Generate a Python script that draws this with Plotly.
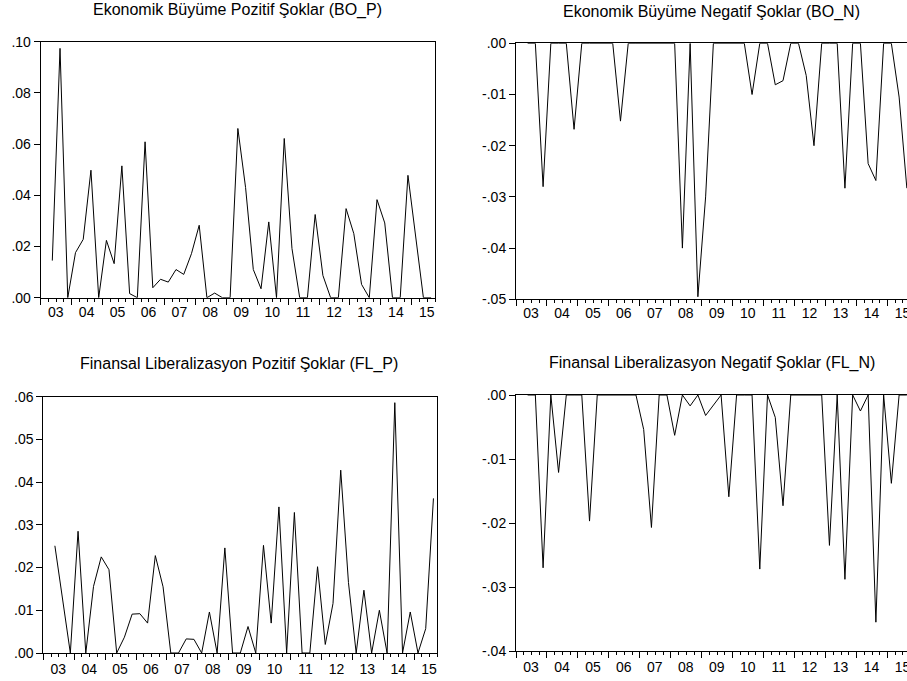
import plotly.graph_objects as go

# ---- data -------------------------------------------------------------
quarters = [f"{y}Q{q}" for y in range(2003, 2016) for q in range(1, 5)][:51]
x_idx = list(range(len(quarters)))
year_labels = [f"{y % 100:02d}" for y in range(2003, 2016)]

bo_p = [None, 0.0145, 0.0974, 0.0, 0.0176, 0.0228, 0.0498, 0.0, 0.0224, 0.0133,
        0.0515, 0.0016, 0.0, 0.0609, 0.0039, 0.0072, 0.0061, 0.0110, 0.0091, 0.0172,
        0.0283, 0.0, 0.0018, 0.0, 0.0, 0.0661, 0.0430, 0.0110, 0.0035, 0.0296,
        0.0, 0.0622, 0.0192, 0.0, 0.0, 0.0325, 0.0087, 0.0, 0.0, 0.0348,
        0.0250, 0.0052, 0.0, 0.0383, 0.0292, 0.0, 0.0, 0.0478, 0.0250, 0.0, 0.0]

bo_n = [None, 0.0, 0.0, -0.0280, 0.0, 0.0, 0.0, -0.0168, 0.0, 0.0,
        0.0, 0.0, 0.0, -0.0152, 0.0, 0.0, 0.0, 0.0, 0.0, 0.0,
        0.0, -0.0400, 0.0, -0.0495, -0.0300, 0.0, 0.0, 0.0, 0.0, 0.0,
        -0.0100, 0.0, 0.0, -0.0081, -0.0073, 0.0, 0.0, -0.0063, -0.0200, 0.0,
        0.0, 0.0, -0.0283, 0.0, 0.0, -0.0235, -0.0268, 0.0, 0.0, -0.0105, -0.0283]

fl_p = [None, 0.0251, 0.0130, 0.0, 0.0285, 0.0, 0.0156, 0.0225, 0.0195, 0.0,
        0.0037, 0.0091, 0.0092, 0.0070, 0.0228, 0.0155, 0.0, 0.0, 0.0033, 0.0032,
        0.0, 0.0096, 0.0, 0.0246, 0.0, 0.0, 0.0062, 0.0, 0.0252, 0.0070,
        0.0342, 0.0, 0.0329, 0.0, 0.0, 0.0202, 0.0020, 0.0116, 0.0428, 0.0165,
        0.0, 0.0147, 0.0, 0.0100, 0.0, 0.0586, 0.0, 0.0096, 0.0, 0.0057, 0.0362]

fl_n = [None, 0.0, 0.0, -0.0270, 0.0, -0.0121, 0.0, 0.0, 0.0, -0.0197,
        0.0, 0.0, 0.0, 0.0, 0.0, 0.0, -0.0054, -0.0207, 0.0, 0.0,
        -0.0063, 0.0, -0.0017, 0.0, -0.0032, -0.0016, 0.0, -0.0159, 0.0, 0.0,
        0.0, -0.0272, 0.0, -0.0035, -0.0173, 0.0, 0.0, 0.0, 0.0, 0.0,
        -0.0235, 0.0, -0.0288, 0.0, -0.0025, 0.0, -0.0355, 0.0, -0.0138, 0.0, 0.0]

titles = ["Ekonomik Büyüme Pozitif Şoklar (BO_P)",
          "Ekonomik Büyüme Negatif Şoklar (BO_N)",
          "Finansal Liberalizasyon Pozitif Şoklar (FL_P)",
          "Finansal Liberalizasyon Negatif Şoklar (FL_N)"]

y_ticks_bo_p = [0.00, 0.02, 0.04, 0.06, 0.08, 0.10]
y_ticks_bo_n = [0.00, -0.01, -0.02, -0.03, -0.04, -0.05]
y_ticks_fl_p = [0.00, 0.01, 0.02, 0.03, 0.04, 0.05, 0.06]
y_ticks_fl_n = [0.00, -0.01, -0.02, -0.03, -0.04]

# ---- layout helpers --------------------------------------------------------
W, H = 907, 681
FONT = "Arial, Liberation Sans, sans-serif"


def fx(px):
    return px / W


def fy(py):
    return 1 - py / H


def fmt(v):
    return f"{v:.2f}".replace("0.", ".")


year_bounds = [-0.5 + 4 * k for k in range(len(year_labels))]

panels = [
    # series, yticks, yrange, x-left px, x-right px, y-top px, y-bottom px,
    # x-range end, boxed, title pos, label standoff
    (bo_p, y_ticks_bo_p, [0, 0.10], 40.7, 435.0, 41.7, 297.7, 50.5, True, (237.0, 10.0), -5),
    (bo_n, y_ticks_bo_n, [-0.05, 0], 516.0, 907.0, 43.3, 299.3, 50.02, False, (711.7, 11.5), -5),
    (fl_p, y_ticks_fl_p, [0, 0.06], 43.3, 437.3, 396.7, 653.0, 50.5, True, (239.0, 364.0), -3),
    (fl_n, y_ticks_fl_n, [-0.04, 0], 516.0, 907.0, 395.0, 651.0, 50.02, False, (711.7, 362.5), -3),
]

fig = go.Figure()
layout = dict(
    template="none",
    width=W, height=H,
    margin=dict(l=0, r=0, t=0, b=0, pad=0, autoexpand=False),
    paper_bgcolor="white", plot_bgcolor="white",
    showlegend=False,
    font=dict(family=FONT, size=14, color="black"),
    annotations=[],
)

for i, (series, yt, yr, xl, xr, yt_px, yb_px, xend, boxed, tpos, stand) in enumerate(panels):
    n = "" if i == 0 else str(i + 1)
    fig.add_trace(go.Scatter(
        x=x_idx, y=series, mode="lines",
        line=dict(color="black", width=1),
        connectgaps=False, hoverinfo="skip",
        xaxis="x" + n, yaxis="y" + n,
    ))
    layout["xaxis" + n] = dict(
        domain=[fx(xl), fx(xr)], anchor="y" + n,
        range=[-0.5, xend], automargin=False,
        showgrid=False, zeroline=False,
        showline=True, linecolor="black", linewidth=1, mirror=True,
        tickmode="array", tickvals=year_bounds, ticktext=year_labels,
        ticks="outside", ticklen=6, tickwidth=1, tickcolor="black",
        ticklabelshift=15, ticklabelstandoff=stand, ticklabeloverflow="allow",
        tickfont=dict(family=FONT, size=14, color="black"),
        minor=dict(tickmode="linear", tick0=-0.5, dtick=1, ticks="outside",
                   ticklen=3, tickwidth=1, tickcolor="black", showgrid=False),
    )
    layout["yaxis" + n] = dict(
        domain=[fy(yb_px), fy(yt_px)], anchor="x" + n,
        range=yr, automargin=False,
        showgrid=False, zeroline=False,
        showline=True, linecolor="black", linewidth=1, mirror=boxed,
        tickmode="array", tickvals=yt, ticktext=[fmt(v) for v in yt],
        ticks="outside", ticklen=6, tickwidth=1, tickcolor="black",
        tickfont=dict(family=FONT, size=14, color="black"),
    )
    layout["annotations"].append(dict(
        text=titles[i], xref="paper", yref="paper",
        x=fx(tpos[0]), y=fy(tpos[1]), xanchor="center", yanchor="middle",
        showarrow=False, font=dict(family=FONT, size=16, color="black"),
    ))

fig.update_layout(**layout)
fig.write_html(
    "out.html",
    config={"displayModeBar": False, "staticPlot": True},
    post_script="document.body.style.margin='0';document.body.style.overflow='hidden';",
)
